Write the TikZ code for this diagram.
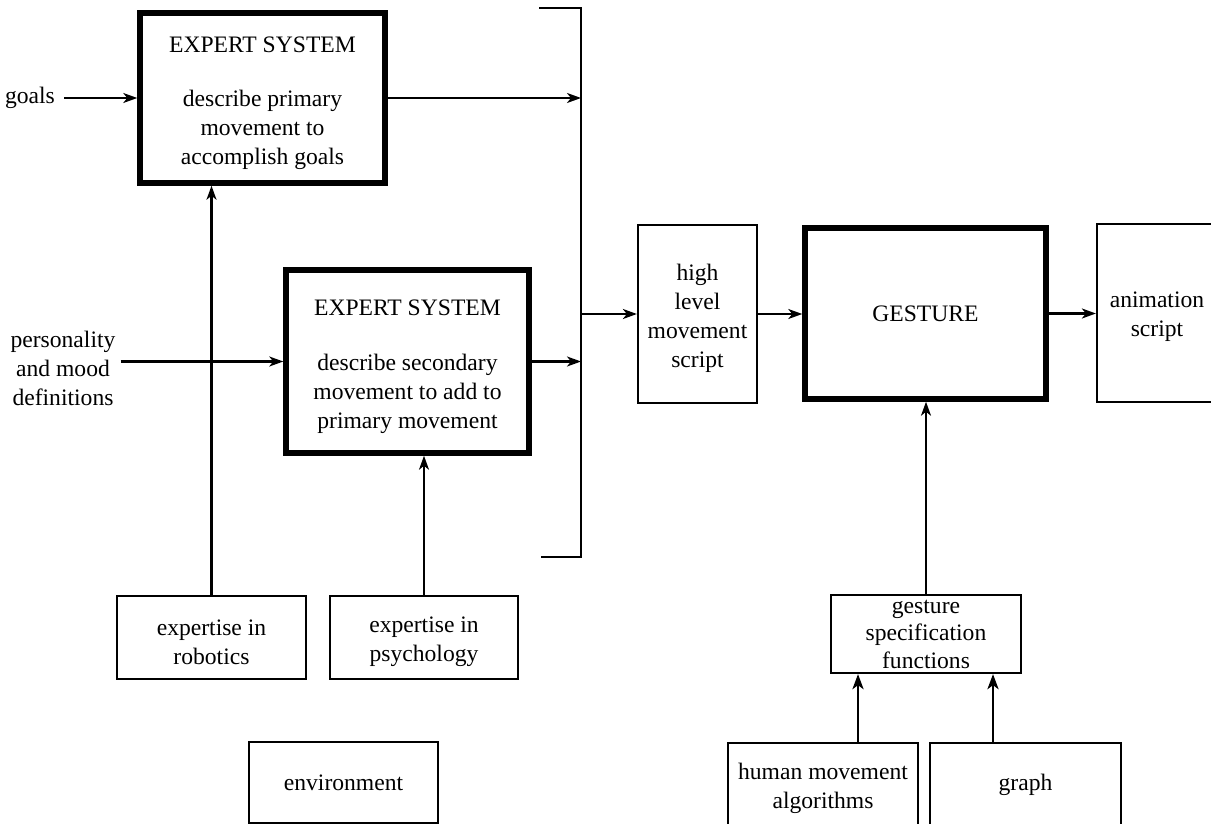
\documentclass[tikz,border=0pt]{standalone}
\usepackage{fontspec}
\setmainfont{Liberation Serif}
\usetikzlibrary{arrows.meta}
\begin{document}
\begin{tikzpicture}[x=1pt,y=-1pt,
  txt/.style={font=\fontsize{23.6}{29}\selectfont, align=center, inner sep=0pt},
  thinbox/.style={draw, line width=2.2pt, inner sep=0pt, txt},
  thickbox/.style={draw, line width=5.5pt, inner sep=0pt, txt},
  arr/.style={line width=2.1pt, -{Stealth[length=14pt,width=10pt,inset=4pt]}},
  ln/.style={line width=2.1pt},
  bigarr/.style={line width=2.8pt, -{Stealth[length=15pt,width=11pt,inset=4pt]}},
]
\useasboundingbox (0,0) rectangle (1211,824);
\clip (0,0) rectangle (1211,824);

% boxes
\node[thickbox, minimum width=245pt, minimum height=170pt] (es1) at (262.5,98) {};
\node[txt] (es1t) at ([yshift=-5pt]es1.center)
  {EXPERT SYSTEM\\[25pt]describe primary\\movement to\\accomplish goals};
\node[thickbox, minimum width=243pt, minimum height=183pt] (es2) at (407.5,361.5) {};
\node[txt] (es2t) at ([yshift=-5pt]es2.center)
  {EXPERT SYSTEM\\[26pt]describe secondary\\movement to add to\\primary movement};
\node[thinbox, minimum width=119pt, minimum height=178pt] (high) at (697.5,314) {};
\node[txt] (hight) at ([yshift=-4pt]high.center) {high\\level\\movement\\script};
\node[thickbox, minimum width=241pt, minimum height=171pt] (gest) at (925.5,313.5) {GESTURE};
\node[thinbox, minimum width=120pt, minimum height=178pt] (anim) at (1157,313) {};
\node[txt] (animt) at ([yshift=-3.5pt]anim.center) {animation\\script};
\node[thinbox, minimum width=189pt, minimum height=83pt] (rob) at (211.5,637.5) {};
\node[txt] (robt) at ([yshift=-4.5pt]rob.center) {expertise in\\robotics};
\node[thinbox, minimum width=188pt, minimum height=83pt] (psy) at (424,637.5) {};
\node[txt] (psyt) at ([yshift=-4.5pt]psy.center) {expertise in\\psychology};
\node[thinbox, minimum width=189pt, minimum height=81pt] (env) at (343.5,782.5) {environment};
\node[thinbox, minimum width=190pt, minimum height=78pt] (gspec) at (926,634) {};
\node[txt, font=\fontsize{23.6}{27.5}\selectfont] (gspect) at (gspec.center)
  {gesture\\specification\\functions};
\node[thinbox, minimum width=190pt, minimum height=84pt] (hum) at (823,785) {};
\node[txt] (humt) at ([yshift=-3pt]hum.center) {human movement\\algorithms};
\node[thinbox, minimum width=191pt, minimum height=84pt] (graph) at (1025.5,785) {graph};

% free texts
\node[txt, inner xsep=9pt, inner ysep=4pt] (goals) at (30,98) {goals};
\node[txt, inner sep=5pt] (pers) at (63,368) {personality\\and mood\\definitions};

% bracket
\coordinate (b0) at (539,8);
\coordinate (b1) at (581,8);
\coordinate (b2) at (581,557);
\coordinate (b3) at (541,557);
\draw[ln] (b0) -- (b1) -- (b2) -- (b3);

% connectors
\draw[arr] (goals.east) -- (goals.east -| es1.west);
\draw[arr] (pers.east |- es2.west) -- (es2.west);
\draw[arr] (es1.east) -- (es1.east -| b1);
\draw[arr] (es2.east) -- (es2.east -| b1);
\draw[arr] (high.west -| b1) -- (high.west);
\draw[arr] (high.east) -- (high.east -| gest.west);
\draw[arr] (gest.east) -- (gest.east -| anim.west);
\draw[arr] (rob.north) -- (rob.north |- es1.south);
\draw[arr] (psy.north) -- (psy.north |- es2.south);
\draw[arr] (gspec.north) -- (gspec.north |- gest.south);
\coordinate (h1) at ([xshift=35pt]hum.north);
\coordinate (g1) at ([xshift=-32.5pt]graph.north);
\draw[bigarr] (h1) -- (h1 |- gspec.south);
\draw[bigarr] (g1) -- (g1 |- gspec.south);
\end{tikzpicture}
\end{document}
